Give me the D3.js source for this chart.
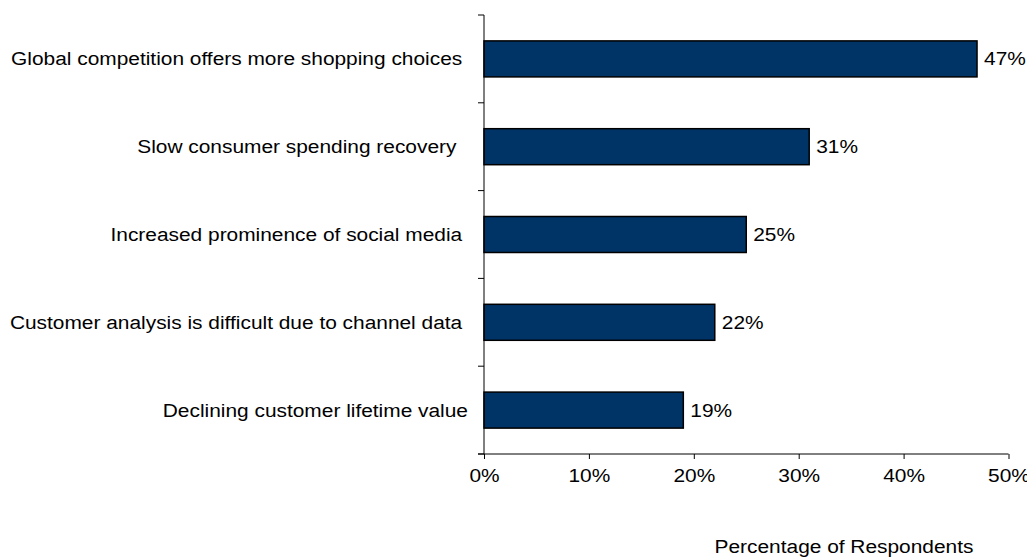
<!DOCTYPE html>
<html>
<head>
<meta charset="utf-8">
<script src="https://cdn.jsdelivr.net/npm/d3@7"></script>
<style>
  body { margin: 0; background: #fff; }
  text { font-family: "Liberation Sans", Arial, sans-serif; fill: #000; white-space: pre; }
</style>
</head>
<body>
<div id="chart"></div>
<script>
// categories (trailing spaces kept as in the original labels)
const categories = [
    'Global competition offers more shopping choices ',
    'Slow consumer spending recovery  ',
    'Increased prominence of social media ',
    'Customer analysis is difficult due to channel data ',
    'Declining customer lifetime value'
];
const values = [47, 31, 25, 22, 19];
const xTicks = [0, 10, 20, 30, 40, 50];
const xTitle = 'Percentage of Respondents';

const chartWidth = 1027;
const chartHeight = 557;
const fontSize = 18;
const stretch = 1.16; // the original text is drawn a bit wide

const svg = d3.select('#chart')
    .append('svg')
    .attr('width', chartWidth)
    .attr('height', chartHeight);

const xScale = d3.scaleLinear()
    .domain([0, 50])
    .range([484, 1008.5]);

const yScale = d3.scaleBand()
    .domain(categories)
    .range([15, 454])
    .paddingInner(0.59)
    .paddingOuter(0.295);

// widen a text by the stretch factor, keeping its anchor
function widen(sel) {
    sel.each(function () {
        const len = this.getComputedTextLength();
        d3.select(this)
            .attr('textLength', len * stretch)
            .attr('lengthAdjust', 'spacingAndGlyphs');
    });
}

// bars
svg.append('g')
    .selectAll('rect')
    .data(values)
    .enter()
    .append('rect')
    .attr('x', xScale(0))
    .attr('y', (d, i) => yScale(categories[i]))
    .attr('width', d => xScale(d) - xScale(0))
    .attr('height', yScale.bandwidth())
    .attr('fill', '#003366')
    .attr('stroke', '#000')
    .attr('stroke-width', 1.5);

// value labels
svg.append('g')
    .selectAll('text')
    .data(values)
    .enter()
    .append('text')
    .attr('x', d => xScale(d) + 7)
    .attr('y', (d, i) => yScale(categories[i]) + yScale.bandwidth() / 2)
    .attr('dy', '0.36em')
    .attr('font-size', fontSize)
    .text(d => d + '%')
    .call(widen);

// y axis: line, boundary ticks and category labels
const step = yScale.step();
const boundaries = categories.map(c => yScale(c) - step * yScale.paddingInner() / 2);
boundaries.push(yScale.range()[1]);

const yAxis = svg.append('g').attr('class', 'y-axis');
yAxis.append('line')
    .attr('x1', xScale(0)).attr('x2', xScale(0))
    .attr('y1', boundaries[0]).attr('y2', boundaries[boundaries.length - 1])
    .attr('stroke', '#000');
yAxis.selectAll('.tick')
    .data(boundaries)
    .enter()
    .append('line')
    .attr('class', 'tick')
    .attr('x1', xScale(0) - 6).attr('x2', xScale(0))
    .attr('y1', d => d).attr('y2', d => d)
    .attr('stroke', '#000');
yAxis.selectAll('.label')
    .data(categories)
    .enter()
    .append('text')
    .attr('class', 'label')
    .attr('x', 468)
    .attr('y', d => yScale(d) + yScale.bandwidth() / 2)
    .attr('dy', '0.36em')
    .attr('text-anchor', 'end')
    .attr('font-size', fontSize)
    .text(d => d)
    .call(widen);

// x axis
const xAxis = d3.axisBottom(xScale)
    .tickValues(xTicks)
    .tickSize(5)
    .tickSizeOuter(0)
    .tickFormat(d => d + '%');

const gx = svg.append('g')
    .attr('class', 'x-axis')
    .attr('transform', 'translate(0,' + yScale.range()[1] + ')')
    .call(xAxis);
gx.select('.domain').remove();
gx.append('line')
    .attr('x1', xScale(0) - 6).attr('x2', xScale(50))
    .attr('stroke', '#000');
gx.selectAll('.tick line').attr('stroke', '#000');
gx.selectAll('.tick text')
    .attr('y', 22)
    .attr('dy', '0.36em')
    .attr('font-size', fontSize)
    .attr('font-family', '"Liberation Sans", Arial, sans-serif')
    .attr('fill', '#000')
    .call(widen);

// axis title
svg.append('text')
    .attr('x', 844)
    .attr('y', 553)
    .attr('text-anchor', 'middle')
    .attr('font-size', fontSize)
    .text(xTitle)
    .call(widen);
</script>
</body>
</html>
